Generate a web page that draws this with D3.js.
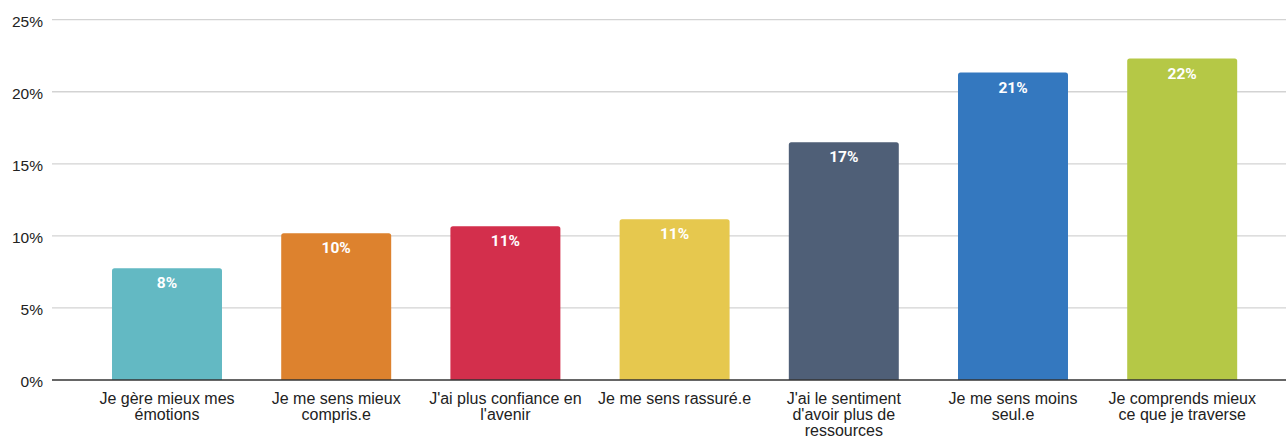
<!DOCTYPE html>
<html>
<head>
<meta charset="utf-8">
<script src="https://cdn.jsdelivr.net/npm/d3@7/dist/d3.min.js"></script>
<style>
  html, body { margin: 0; padding: 0; background: #fff; }
  svg { display: block; }
</style>
</head>
<body>
<svg id="chart" width="1286" height="437"></svg>
<script>
const categories = [
  "Je gère mieux mes émotions",
  "Je me sens mieux compris.e",
  "J'ai plus confiance en l'avenir",
  "Je me sens rassuré.e",
  "J'ai le sentiment d'avoir plus de ressources",
  "Je me sens moins seul.e",
  "Je comprends mieux ce que je traverse"
];
const values = [7.75, 10.18, 10.67, 11.15, 16.5, 21.33, 22.3];
const valueLabels = ["8%", "10%", "11%", "11%", "17%", "21%", "22%"];
const colors = ["#63b9c3", "#dd822e", "#d32f4c", "#e6c84e", "#4f5f77", "#3478bf", "#b5c846"];
const yTicks = [0, 5, 10, 15, 20, 25];

const svg = d3.select("#chart");
const gridLeft = 52, gridRight = 1286;

const x = d3.scaleBand()
  .domain(categories)
  .range([82.4, 1266.8])
  .paddingInner(0.35)
  .paddingOuter(0.175);

const y = d3.scaleLinear().domain([0, 25]).range([380, 19.7]);

// gridlines
svg.append("g").selectAll("line")
  .data(yTicks.filter(d => d !== 0))
  .join("line")
  .attr("x1", gridLeft).attr("x2", gridRight)
  .attr("y1", d => y(d)).attr("y2", d => y(d))
  .attr("stroke", "#d3d3d3").attr("stroke-width", 1.3);

// y tick labels
svg.append("g").selectAll("text")
  .data(yTicks)
  .join("text")
  .attr("x", 43).attr("y", d => y(d) + 7)
  .attr("text-anchor", "end")
  .attr("font-family", "Liberation Sans, Arial, sans-serif")
  .attr("font-size", 15.5)
  .attr("fill", "#222")
  .text(d => d + "%");

// bars with rounded top corners
function barPath(x0, w, yTop, yBase, r) {
  r = Math.min(r, w / 2, (yBase - yTop));
  return `M${x0},${yBase}V${yTop + r}Q${x0},${yTop} ${x0 + r},${yTop}H${x0 + w - r}Q${x0 + w},${yTop} ${x0 + w},${yTop + r}V${yBase}Z`;
}

svg.append("g").selectAll("path")
  .data(categories)
  .join("path")
  .attr("d", (d, i) => barPath(x(d), x.bandwidth(), y(values[i]), y(0), 2.5))
  .attr("fill", (d, i) => colors[i]);

// value labels
svg.append("g").selectAll("text")
  .data(categories)
  .join("text")
  .attr("x", d => x(d) + x.bandwidth() / 2)
  .attr("y", (d, i) => y(values[i]) + 20)
  .attr("text-anchor", "middle")
  .attr("font-family", "Roboto, Liberation Sans, sans-serif")
  .attr("font-weight", "bold")
  .attr("font-size", 15.5)
  .attr("fill", "#fff")
  .text((d, i) => valueLabels[i]);

// axis baseline
svg.append("line")
  .attr("x1", gridLeft).attr("x2", gridRight)
  .attr("y1", y(0)).attr("y2", y(0))
  .attr("stroke", "#333").attr("stroke-width", 1.5);

// x labels with wrapping
const maxW = 162;
const xl = svg.append("g");
categories.forEach((c, i) => {
  const cx = x(c) + x.bandwidth() / 2;
  const t = xl.append("text")
    .attr("x", cx)
    .attr("y", 403.5)
    .attr("text-anchor", "middle")
    .attr("font-family", "Liberation Sans, Arial, sans-serif")
    .attr("font-size", 16)
    .attr("fill", "#222");
  const words = c.split(" ");
  let line = [];
  let ts = t.append("tspan").attr("x", cx).attr("dy", 0);
  words.forEach(w => {
    line.push(w);
    ts.text(line.join(" "));
    if (ts.node().getComputedTextLength() > maxW && line.length > 1) {
      line.pop();
      ts.text(line.join(" "));
      line = [w];
      ts = t.append("tspan").attr("x", cx).attr("dy", 16).text(w);
    }
  });
});
</script>
</body>
</html>
